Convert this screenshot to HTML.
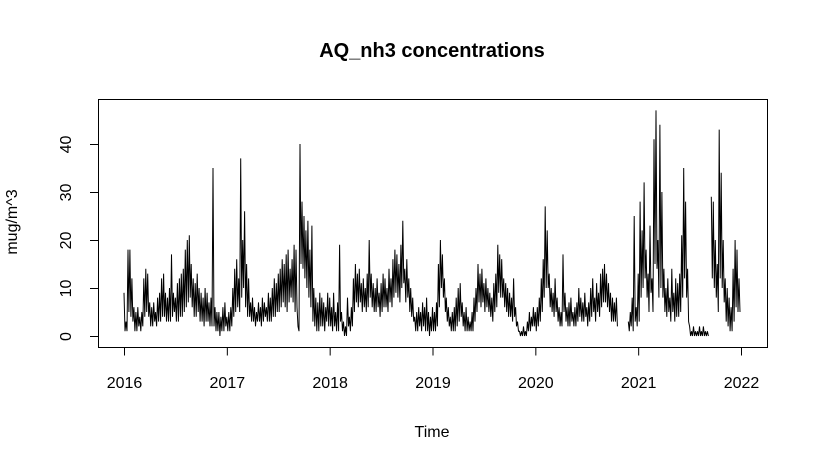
<!DOCTYPE html>
<html><head><meta charset="utf-8"><style>
body{margin:0;background:#fff}
svg text{font-family:"Liberation Sans",Arial,sans-serif;fill:#000}
</style></head><body>
<svg id="chart" width="816" height="468" viewBox="0 0 816 468" xmlns="http://www.w3.org/2000/svg">
<rect width="816" height="468" fill="#fff"/>
<text x="432" y="57" font-size="20" font-weight="bold" text-anchor="middle">AQ_nh3 concentrations</text>
<text x="432" y="437" font-size="16" text-anchor="middle">Time</text>
<text transform="translate(17,222) rotate(-90)" font-size="16" text-anchor="middle">mug/m^3</text>
<rect x="98.5" y="99.5" width="669" height="248" fill="none" stroke="#000"/>
<g id="axes"></g>
<path id="series" fill="none" stroke="#000" stroke-width="1"/>
</svg>
<script>
const years = [2016, 2017, 2018, 2019, 2020, 2021];
const xTicks = [2016, 2017, 2018, 2019, 2020, 2021, 2022];
const yTicks = [0, 10, 20, 30, 40];
const hi2016 = [9,3,18,18,12,6,5,6,4,5,12,14,13,7,6,7,5,8,9,12,13,9,8,10,17,9,8,11,12,13,14,18,20,21,15,12,11,13,10,9,8,10,9,7,8,35,6,5,5,4,6,7];
const lo2016 = [1,1,5,4,3,1,1,2,1,2,4,5,4,2,2,3,2,3,3,4,4,3,3,3,4,5,3,3,4,4,5,6,7,8,6,4,4,5,3,3,2,3,3,2,2,2,1,1,0,1,1,2];
const hi2017 = [4,5,6,10,14,16,12,37,20,26,15,12,7,8,6,5,7,6,8,7,6,9,8,10,12,11,13,14,16,15,17,18,14,16,19,18,2,40,28,25,22,24,18,23,10,8,7,9,8,7,6,9];
const lo2017 = [1,1,2,4,5,6,5,8,10,6,4,4,3,3,2,3,3,2,3,4,3,3,3,4,4,5,5,6,7,6,5,7,8,7,5,6,1,15,14,12,10,8,6,3,2,1,1,2,2,1,3,2];
const hi2018 = [8,6,9,5,7,19,5,3,2,8,4,6,12,15,13,14,11,12,10,13,20,13,11,10,12,9,11,13,12,10,14,12,16,18,17,15,19,24,14,16,12,10,8,4,5,6,5,7,6,8,5,4];
const lo2018 = [2,1,2,1,1,3,1,0,0,2,1,2,5,7,6,7,5,6,5,6,8,6,5,5,6,4,5,6,6,5,7,6,8,9,8,7,10,11,7,8,5,4,3,1,1,2,1,2,1,1,0,1];
const hi2019 = [6,5,7,15,20,17,12,8,6,4,5,6,8,10,11,7,5,6,4,3,5,8,10,15,13,14,11,12,10,9,8,11,13,19,17,16,12,11,10,9,8,12,6,3,1,1,2,1,3,5,4,6];
const lo2019 = [1,1,2,6,10,8,5,3,2,1,1,1,2,3,4,2,1,1,1,1,1,3,5,7,6,7,5,6,5,4,3,5,6,9,8,8,6,5,4,4,3,4,2,1,0,0,0,0,1,1,2,2];
const hi2020 = [5,6,8,12,16,27,22,13,10,9,12,8,6,5,17,9,6,7,8,5,6,7,10,8,7,9,6,7,10,12,8,11,9,13,14,15,13,11,9,8,7,8,null,null,null,null,null,3,5,8,25,6];
const lo2020 = [1,2,3,5,8,10,10,6,5,4,5,3,2,2,5,3,2,2,3,2,2,3,4,3,3,4,2,3,4,5,3,5,4,6,7,7,6,5,3,3,3,2,null,null,null,null,null,1,2,1,3,2];
const hi2021 = [13,28,22,32,18,13,23,12,41,47,20,44,30,14,10,12,8,14,9,12,11,13,21,35,28,14,2,1,2,1,1,2,1,2,1,1,null,29,28,20,15,43,34,20,12,10,8,6,14,20,18,12];
const lo2021 = [3,8,10,12,8,5,9,5,15,14,8,10,8,5,4,5,3,5,3,4,4,5,8,12,8,3,0,0,0,0,0,0,0,0,0,0,null,12,10,8,5,12,10,7,3,2,1,1,3,6,5,5];
const hiByYear = [hi2016, hi2017, hi2018, hi2019, hi2020, hi2021];
const loByYear = [lo2016, lo2017, lo2018, lo2019, lo2020, lo2021];

const X0 = 124, X1 = 741, Y0 = 336, Y40 = 144;
function xs(t){ return X0 + (t - 2016) / 6 * (X1 - X0); }
function ys(v){ return Y0 - v / 40 * (Y0 - Y40); }

const NS = "http://www.w3.org/2000/svg";
const axes = document.getElementById('axes');
function mk(tag, attrs){ const e = document.createElementNS(NS, tag); for (const k in attrs) e.setAttribute(k, attrs[k]); axes.appendChild(e); return e; }

const xl = mk('line', {x1: xs(xTicks[0]), x2: xs(xTicks[xTicks.length-1]), y1: 347.5, y2: 347.5, stroke: '#000'});


xTicks.forEach(t => {
  const tk = mk('line', {x1: xs(t)+0.5, x2: xs(t)+0.5, y1: 347.5, y2: 355.5, stroke: '#000'});
  
  
  const lb = mk('text', {x: xs(t)+0.5, y: 388, 'font-size': 16, 'text-anchor': 'middle'});
  lb.textContent = t;
  
  
});
const yl = mk('line', {x1: 98.5, x2: 98.5, y1: ys(yTicks[0]), y2: ys(yTicks[yTicks.length-1]), stroke: '#000'});


yTicks.forEach(v => {
  const tk = mk('line', {x1: 90, x2: 98.5, y1: ys(v)+0.5, y2: ys(v)+0.5, stroke: '#000'});
  
  
  const lb = mk('text', {transform: `translate(71,${ys(v)+0.5}) rotate(-90)`, 'font-size': 16, 'text-anchor': 'middle'});
  lb.textContent = v;
  
  
});

let d = '', pen = false;
years.forEach((yr, k) => {
  const hi = hiByYear[k], lo = loByYear[k], n = hi.length;
  for (let i = 0; i < n; i++) {
    const t = yr + i / n, t2 = yr + (i + 0.5) / n;
    if (hi[i] == null) { pen = false; continue; }
    d += (pen ? 'L' : 'M') + xs(t).toFixed(1) + ' ' + ys(hi[i]).toFixed(1);
    pen = true;
    if (lo[i] != null) d += 'L' + xs(t2).toFixed(1) + ' ' + ys(lo[i]).toFixed(1);
  }
});
document.getElementById('series').setAttribute('d', d);
</script>
</body></html>
